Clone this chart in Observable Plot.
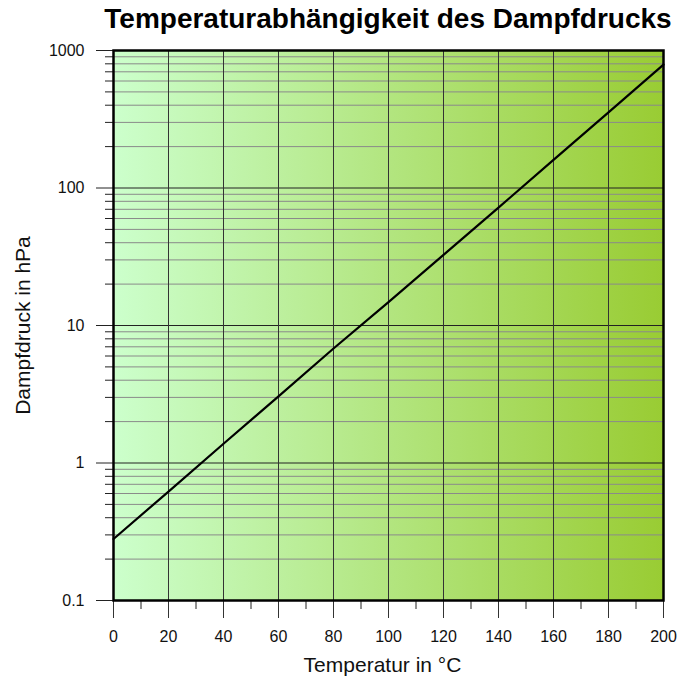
<!DOCTYPE html>
<html><head><meta charset="utf-8">
<script src="https://cdn.jsdelivr.net/npm/d3@7"></script>
<script src="https://cdn.jsdelivr.net/npm/@observablehq/plot@0.6"></script>
<style>
body{margin:0;background:#fff;font-family:"Liberation Sans",Arial,sans-serif;width:678px;height:682px;position:relative;overflow:hidden;}
#title{position:absolute;top:3px;left:98px;width:580px;text-align:center;font-weight:bold;font-size:28px;line-height:normal;color:#000;white-space:nowrap;}
#chart{position:absolute;top:40px;left:0;}
</style></head><body>
<div id="title">Temperaturabhängigkeit des Dampfdrucks</div>
<div id="chart"></div>
<script>
const temperatures = [0, 20, 40, 60, 80, 100, 120, 140, 160, 180, 200];
const pressures = [0.28, 0.62, 1.38, 3.05, 6.8, 14.8, 32.6, 72, 160, 355, 790];
const xMajorTicks = [0, 20, 40, 60, 80, 100, 120, 140, 160, 180, 200];
const xMinorTicks = [10, 30, 50, 70, 90, 110, 130, 150, 170, 190];
const xGrid = [20, 40, 60, 80, 100, 120, 140, 160, 180];
const yMajorTicks = [0.1, 1, 10, 100, 1000];
const yMajorGrid = [1, 10, 100];
const yMinorTicks = [0.2, 0.3, 0.4, 0.5, 0.6, 0.7, 0.8, 0.9,
  2, 3, 4, 5, 6, 7, 8, 9,
  20, 30, 40, 50, 60, 70, 80, 90,
  200, 300, 400, 500, 600, 700, 800, 900];
const xLabel = "Temperatur in °C";
const yLabel = "Dampfdruck in hPa";

const data = temperatures.map((t, i) => ({t, p: pressures[i]}));

const plot = Plot.plot({
  width: 678, height: 642,
  marginTop: 10, marginBottom: 82, marginLeft: 113, marginRight: 15,
  style: {fontFamily: '"Liberation Sans", Arial, sans-serif', fontSize: "16px", color: "#111", background: "transparent"},
  x: {domain: [0, 200]},
  y: {type: "log", domain: [0.1, 1000]},
  marks: [
    Plot.frame({fill: "url(#bgGrad)"}),
    Plot.ruleY(yMinorTicks, {stroke: "#8a8a8a", strokeWidth: 1}),
    Plot.ruleY(yMajorGrid, {stroke: "#222", strokeWidth: 1}),
    Plot.ruleX(xGrid, {stroke: "#333", strokeWidth: 1}),
    Plot.axisX({ticks: xMinorTicks, tickSize: 9, tickFormat: () => "", label: null, stroke: "#222"}),
    Plot.axisX({ticks: xMajorTicks, tickSize: 18, tickPadding: 12, label: null, tickFormat: d => String(d), stroke: "#333"}),
    Plot.axisY({ticks: yMinorTicks, tickSize: 8, tickFormat: () => "", label: null, stroke: "#222"}),
    Plot.axisY({ticks: yMajorTicks, tickSize: 17, tickPadding: 12, label: null, tickFormat: d => String(d), stroke: "#222"}),
    Plot.line(data, {x: "t", y: "p", stroke: "black", strokeWidth: 2.2}),
    Plot.frame({stroke: "black", strokeWidth: 2.5}),
    Plot.text([xLabel], {text: d => d, frameAnchor: "bottom", dx: -6, dy: 65, fontSize: 21, lineAnchor: "middle", textAnchor: "middle", fill: "#111"}),
    Plot.text([yLabel], {text: d => d, frameAnchor: "left", dx: -90, rotate: -90, fontSize: 21, lineAnchor: "middle", textAnchor: "middle", fill: "#111"})
  ]
});

const ns = "http://www.w3.org/2000/svg";
const defs = document.createElementNS(ns, "defs");
defs.innerHTML = '<linearGradient id="bgGrad" x1="0" x2="1" y1="0" y2="0"><stop offset="0" stop-color="#ccffcc"/><stop offset="1" stop-color="#99cc33"/></linearGradient>';
plot.insertBefore(defs, plot.firstChild);
document.getElementById("chart").appendChild(plot);
</script>
</body></html>
